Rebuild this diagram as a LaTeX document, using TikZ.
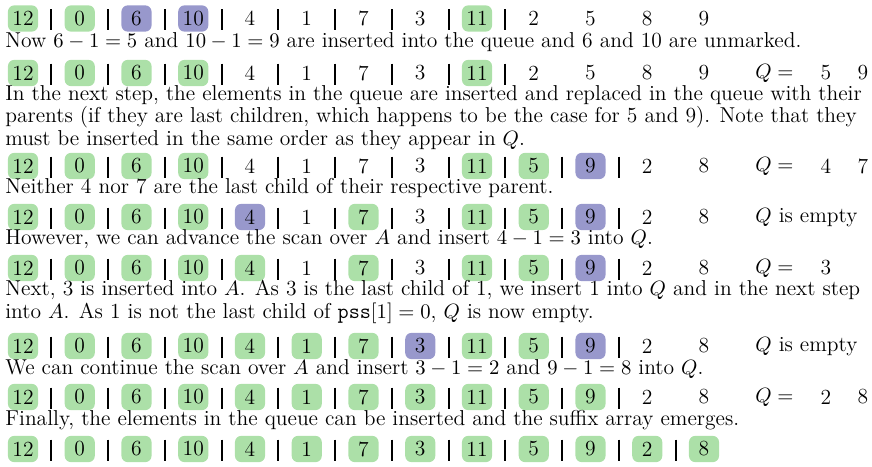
\documentclass[tikz,border=0pt]{standalone}
\definecolor{mgreen}{RGB}{172,224,168}
\definecolor{mpurple}{RGB}{152,152,204}
\newcommand\mkrow[4]{%
  \foreach \st/\lab [count=\i] in {#3} {\node[\st] (#1c\i) at ({23+(\i-1)*56.75},#2) {\lab};}
  \foreach \i in {1,...,#4} {\draw[sep] ({23+(\i-0.5)*56.75},#2-9.5) -- ({23+(\i-0.5)*56.75},#2+11.5);}
}
\begin{document}
\begin{tikzpicture}[x=0.5291pt,y=-0.5291pt,
  every node/.style={font=\fontsize{11.4pt}{13.7pt}\selectfont},
  cell/.style={minimum width=15.9pt,minimum height=13.9pt,inner sep=0pt,rounded corners=3.3pt},
  gbox/.style={cell,fill=mgreen},
  pbox/.style={cell,fill=mpurple},
  plain/.style={cell},
  sep/.style={line width=0.95pt},
  txt/.style={anchor=base west,inner sep=0pt},
  qv/.style={inner sep=0pt}]
\useasboundingbox (0,0) rectangle (872,466);
% row 1
\mkrow{r1}{18.5}{gbox/12,gbox/0,pbox/6,pbox/10,plain/4,plain/1,plain/7,plain/3,gbox/11,plain/2,plain/5,plain/8,plain/9}{9}
\node[txt] (t1) at (5,47.5) {Now $6-1=5$ and $10-1=9$ are inserted into the queue and 6 and 10 are unmarked.};
% row 2
\mkrow{r2}{73}{gbox/12,gbox/0,gbox/6,gbox/10,plain/4,plain/1,plain/7,plain/3,gbox/11,plain/2,plain/5,plain/8,plain/9}{9}
\node[txt] (q2) at (755,78) {$Q=$};
\node[qv] (q2a) at (826,73) {5};
\node[qv] (q2b) at (863,73) {9};
\node[txt] (t2) at (5,100) {In the next step, the elements in the queue are inserted and replaced in the queue with their};
\node[txt] (t3) at (5,122.5) {parents (if they are last children, which happens to be the case for 5 and 9). Note that they};
\node[txt] (t4) at (5,145) {must be inserted in the same order as they appear in $Q$.};
% row 3
\mkrow{r3}{166}{gbox/12,gbox/0,gbox/6,gbox/10,plain/4,plain/1,plain/7,plain/3,gbox/11,gbox/5,pbox/9,plain/2,plain/8}{11}
\node[txt] (q3) at (755,171) {$Q=$};
\node[qv] (q3a) at (826,166) {4};
\node[qv] (q3b) at (863,166) {7};
\node[txt] (t5) at (5,193) {Neither 4 nor 7 are the last child of their respective parent.};
% row 4
\mkrow{r4}{217}{gbox/12,gbox/0,gbox/6,gbox/10,pbox/4,plain/1,gbox/7,plain/3,gbox/11,gbox/5,pbox/9,plain/2,plain/8}{11}
\node[txt] (q4) at (755,222) {$Q$ is empty};
\node[txt] (t6) at (5,244) {However, we can advance the scan over $A$ and insert $4-1=3$ into $Q$.};
% row 5
\mkrow{r5}{268}{gbox/12,gbox/0,gbox/6,gbox/10,gbox/4,plain/1,gbox/7,plain/3,gbox/11,gbox/5,pbox/9,plain/2,plain/8}{11}
\node[txt] (q5) at (755,273) {$Q=$};
\node[qv] (q5a) at (826,268) {3};
\node[txt] (t7) at (5,295) {Next, 3 is inserted into $A$. As 3 is the last child of 1, we insert 1 into $Q$ and in the next step};
\node[txt] (t8) at (5,318) {into $A$. As 1 is not the last child of $\texttt{pss}[1]=0$, $Q$ is now empty.};
% row 6
\mkrow{r6}{346}{gbox/12,gbox/0,gbox/6,gbox/10,gbox/4,gbox/1,gbox/7,pbox/3,gbox/11,gbox/5,pbox/9,plain/2,plain/8}{11}
\node[txt] (q6) at (755,351) {$Q$ is empty};
\node[txt] (t9) at (5,374) {We can continue the scan over $A$ and insert $3-1=2$ and $9-1=8$ into $Q$.};
% row 7
\mkrow{r7}{397}{gbox/12,gbox/0,gbox/6,gbox/10,gbox/4,gbox/1,gbox/7,gbox/3,gbox/11,gbox/5,gbox/9,plain/2,plain/8}{11}
\node[txt] (q7) at (755,402) {$Q=$};
\node[qv] (q7a) at (826,397) {2};
\node[qv] (q7b) at (863,397) {8};
\node[txt] (t10) at (5,425) {Finally, the elements in the queue can be inserted and the suffix array emerges.};
% row 8
\mkrow{r8}{449}{gbox/12,gbox/0,gbox/6,gbox/10,gbox/4,gbox/1,gbox/7,gbox/3,gbox/11,gbox/5,gbox/9,gbox/2,gbox/8}{12}
\end{tikzpicture}
\end{document}
